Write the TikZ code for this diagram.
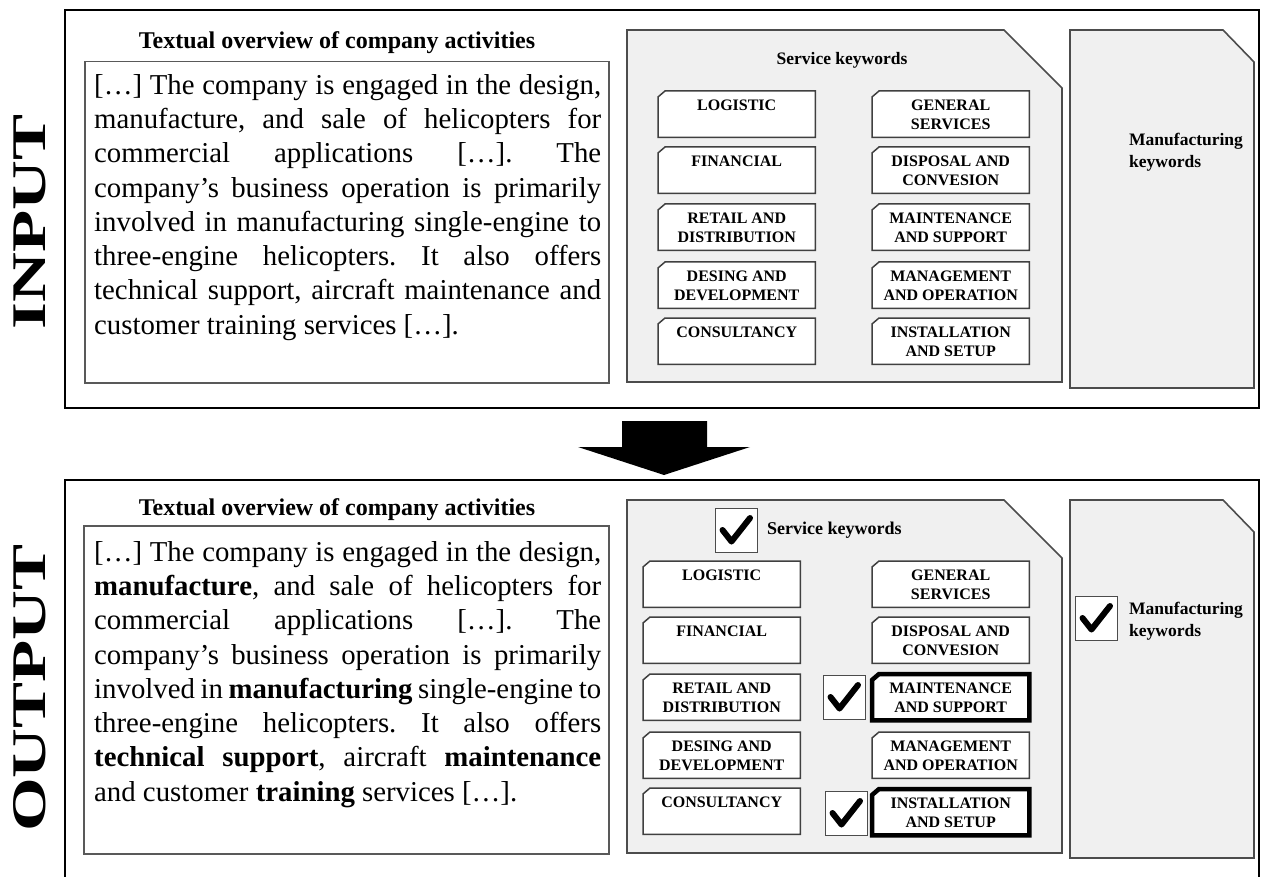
\documentclass[tikz,border=0pt]{standalone}
\usepackage{fontspec}
\setmainfont{Liberation Serif}
\usetikzlibrary{calc}
\tikzset{
 outerbox/.style={draw=black, line width=2.6pt},
 folder/.style={draw=black!70, line width=1.6pt, fill=black!6},
 tbox/.style={draw=black!65, line width=1.5pt, anchor=north west, inner sep=0pt},
 kwrect/.style={anchor=north west, minimum width=157pt, minimum height=46pt, inner sep=0pt, draw=none},
 kwline/.style={draw=black!75, line width=1.5pt, fill=white},
 kwsel/.style={draw=black, line width=4.5pt},
 kwtext/.style={anchor=north, align=center, inner sep=0pt, font=\fontsize{16}{18.5}\selectfont\bfseries},
 chk/.style={draw=black!70, line width=1.4pt, fill=white, minimum width=42pt, minimum height=44pt, inner sep=0pt, anchor=north west},
 tick/.style={line width=6pt, line cap=round, line join=round},
 head/.style={font=\fontsize{24}{28}\selectfont\bfseries, inner sep=0pt},
 body/.style={anchor=north west, text width=507pt, align=justify, inner sep=0pt, font=\fontsize{28.8}{34.3}\selectfont},
 bigtitle/.style={rotate=90, inner sep=0pt},
 kwhead/.style={font=\fontsize{17.5}{22}\selectfont\bfseries, inner sep=0pt},
}
\newcommand\kwbox[5]{%
 \node[kwrect] (#1) at (#2,#3) {};
 \draw[kwline,#5] ($(#1.north west)+(7,0)$) -- (#1.north east) -- (#1.south east) -- (#1.south west) -- ($(#1.north west)+(0,6)$) -- cycle;
 \node[kwtext,yshift=-9pt] (#1t) at (#1.north) {#4};
}
\newcommand\chkbox[3]{%
 \node[chk] (#1) at (#2,#3) {};
 \draw[tick] ($(#1.north west)+(7.5,22)$) -- ($(#1.north west)+(16.5,33.5)$) -- ($(#1.north west)+(35,10)$);
}
\newcommand\parset{\tolerance=10000 \hbadness=10000 \hyphenpenalty=10000 \exhyphenpenalty=10000 \frenchspacing}
\begin{document}
\begin{tikzpicture}[x=1pt,y=-1pt]
\clip (0,0) rectangle (1263,877);
\fill[white] (0,0) rectangle (1263,877);

% ===== INPUT =====
\draw[outerbox] (65,10) rectangle (1259,408);
\node[bigtitle] (inlab) at (30,222) {\scalebox{1}[0.70]{\fontsize{69}{69}\selectfont\bfseries INPUT}};
\node[head] (inhead) at (337,43) {Textual overview of company activities};
\node[tbox, minimum width=524pt, minimum height=321pt] (inbox) at (84,61) {};
\node[body] (intext) at (94,74) {\parset
[…] The company is engaged in the design,\linebreak
manufacture, and sale of helicopters for\linebreak
commercial applications […]. The\linebreak
company's business operation is primarily\linebreak
involved in manufacturing single-engine to\linebreak
three-engine helicopters. It also offers\linebreak
technical support, aircraft maintenance and\linebreak
customer training services […].};

\draw[folder] (627,30) -- (1004,30) -- (1062,88) -- (1062,382) -- (627,382) -- cycle;
\node[kwhead] (inserv) at (842,60) {Service keywords};
\draw[folder] (1070,30) -- (1223,30) -- (1254,62) -- (1254,388) -- (1070,388) -- cycle;
\node[kwhead, anchor=west, align=left] (inmanuf) at (1129,152) {Manufacturing\\keywords};

\kwbox{ia1}{658}{91}{LOGISTIC}{}
\kwbox{ia2}{658}{147}{FINANCIAL}{}
\kwbox{ia3}{658}{204}{RETAIL AND\\DISTRIBUTION}{}
\kwbox{ia4}{658}{262}{DESING AND\\DEVELOPMENT}{}
\kwbox{ia5}{658}{318}{CONSULTANCY}{}
\kwbox{ib1}{872}{91}{GENERAL\\SERVICES}{}
\kwbox{ib2}{872}{147}{DISPOSAL AND\\CONVESION}{}
\kwbox{ib3}{872}{204}{MAINTENANCE\\AND SUPPORT}{}
\kwbox{ib4}{872}{262}{MANAGEMENT\\AND OPERATION}{}
\kwbox{ib5}{872}{318}{INSTALLATION\\AND SETUP}{}

% ===== ARROW =====
\fill[black] (622,421) -- (707,421) -- (707,447) -- (750,447) -- (664,475) -- (578,447) -- (622,447) -- cycle;

% ===== OUTPUT =====
\draw[outerbox] (65,480) rectangle (1259,900);
\node[bigtitle] (outlab) at (30,688) {\scalebox{1}[0.70]{\fontsize{69}{69}\selectfont\bfseries OUTPUT}};
\node[head] (outhead) at (337,510) {Textual overview of company activities};
\node[tbox, minimum width=525pt, minimum height=328pt] (outbox) at (83,525) {};
\node[body] (outtext) at (94,541) {\parset
[…] The company is engaged in the design,\linebreak
\textbf{manufacture}, and sale of helicopters for\linebreak
commercial applications […]. The\linebreak
company's business operation is primarily\linebreak
involved in \textbf{manufacturing} single-engine to\linebreak
three-engine helicopters. It also offers\linebreak
\textbf{technical support}, aircraft \textbf{maintenance}\linebreak
and customer \textbf{training} services […].};

\draw[folder] (627,500) -- (1004,500) -- (1062,558) -- (1062,853) -- (627,853) -- cycle;
\draw[folder] (1070,500) -- (1223,500) -- (1254,532) -- (1254,858) -- (1070,858) -- cycle;
\chkbox{cs}{715}{508}
\node[kwhead, anchor=west, font=\fontsize{18}{22}\selectfont\bfseries] (outserv) at (767,530) {Service keywords};
\chkbox{cm}{1075}{596}
\node[kwhead, anchor=west, align=left] (outmanuf) at (1129,621) {Manufacturing\\keywords};

\kwbox{oa1}{643}{561}{LOGISTIC}{}
\kwbox{oa2}{643}{617}{FINANCIAL}{}
\kwbox{oa3}{643}{674}{RETAIL AND\\DISTRIBUTION}{}
\kwbox{oa4}{643}{732}{DESING AND\\DEVELOPMENT}{}
\kwbox{oa5}{643}{788}{CONSULTANCY}{}
\kwbox{ob1}{872}{561}{GENERAL\\SERVICES}{}
\kwbox{ob2}{872}{617}{DISPOSAL AND\\CONVESION}{}
\kwbox{ob3}{872}{674}{MAINTENANCE\\AND SUPPORT}{kwsel}
\kwbox{ob4}{872}{732}{MANAGEMENT\\AND OPERATION}{}
\kwbox{ob5}{872}{789}{INSTALLATION\\AND SETUP}{kwsel}
\chkbox{c3}{823}{675}
\chkbox{c5}{825}{791}
\end{tikzpicture}
\end{document}
